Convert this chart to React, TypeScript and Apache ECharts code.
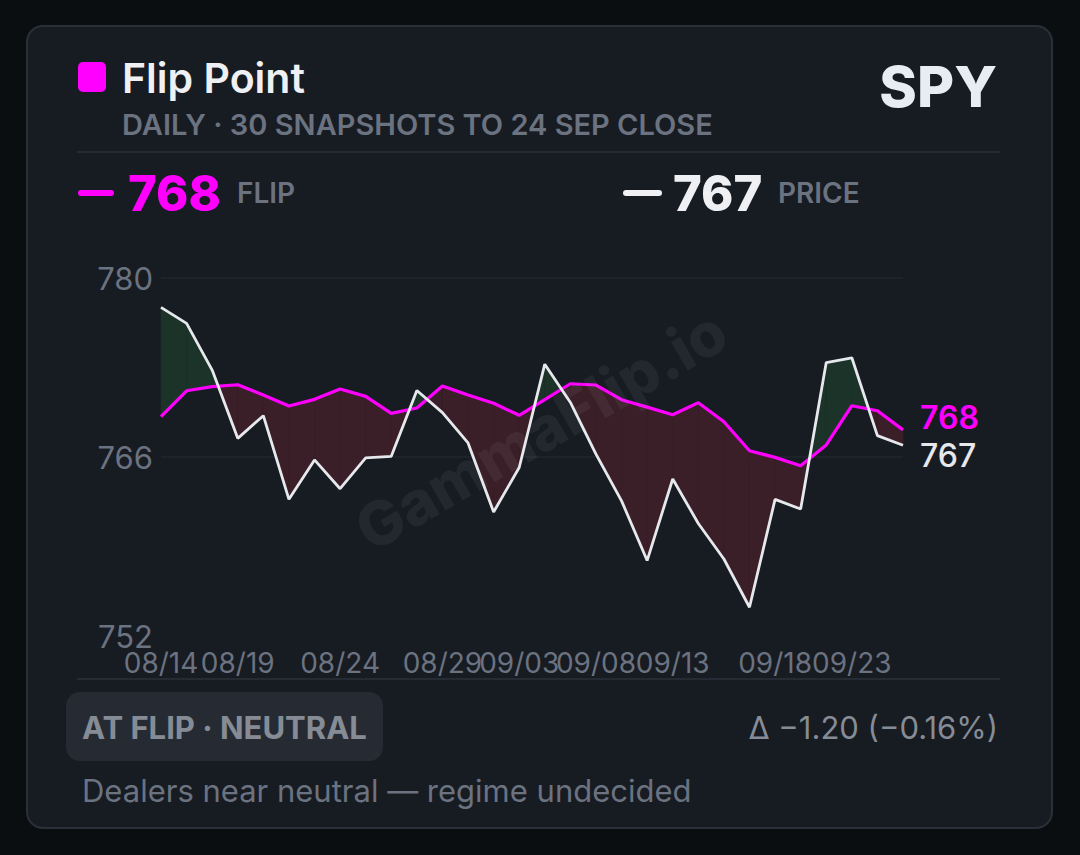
import React, { useEffect, useRef } from "react";
import * as echarts from "echarts";

// 30 daily snapshots, 14 Aug -> 24 Sep close
const snapshots = Array.from({ length: 30 }, (_, i) => String(i));
const tickAt = [0, 3, 7, 11, 14, 17, 20, 24, 27];
const tickLabels = ["08/14", "08/19", "08/24", "08/29", "09/03", "09/08", "09/13", "09/18", "09/23"];

const price = [
    777.7, 776.45, 772.8, 767.46, 769.23, 762.69, 765.77, 763.52, 765.93, 766.05,
    771.2, 769.47, 767.1, 761.7, 765.18, 773.26, 770.27, 766.22, 762.57, 757.9,
    764.28, 760.8, 758.02, 754.25, 762.69, 761.93, 773.39, 773.76, 767.67, 766.92,
];
const flip = [
    769.15, 771.18, 771.5, 771.65, 770.85, 769.99, 770.51, 771.32, 770.74, 769.41,
    769.83, 771.55, 770.85, 770.2, 769.26, 770.49, 771.73, 771.63, 770.48, 769.9,
    769.3, 770.25, 768.76, 766.49, 765.97, 765.32, 766.94, 770.01, 769.62, 768.12,
];

const FONT = "Inter, 'Noto Sans', sans-serif";
const MAGENTA = "#ff00ff";
const WHITE = "#e6e8ec";
const GRAY = "#6b7280";
const GRAY2 = "#868c96";
const ABOVE = "#1b3328";
const BELOW = "#3a1f28";

export default function App() {
    const chartRef = useRef<HTMLDivElement>(null);

    useEffect(() => {
        if (chartRef.current === null) return;
        const chart = echarts.init(chartRef.current, undefined, { renderer: "svg" });

        const last = price.length - 1;
        const flipNow = flip[last];
        const priceNow = price[last];
        const diff = priceNow - flipNow;
        const pct = (diff / flipNow) * 100;
        const fmt = (v: number, d: number) => (v < 0 ? "\u2212" : "+") + Math.abs(v).toFixed(d);
        const deltaText = `\u0394 ${fmt(diff, 2)} (${fmt(pct, 2)}%)`;

        // fill between price and flip, split at crossings
        const renderGap = (params: any, api: any) => {
            const i = params.dataIndex;
            const a0 = api.coord([i, price[i]]);
            const b0 = api.coord([i, flip[i]]);
            const a1 = api.coord([i + 1, price[i + 1]]);
            const b1 = api.coord([i + 1, flip[i + 1]]);
            const d0 = price[i] - flip[i];
            const d1 = price[i + 1] - flip[i + 1];
            const poly = (pts: number[][], up: boolean) => ({
                type: "polygon",
                shape: { points: pts },
                style: { fill: up ? ABOVE : BELOW, stroke: up ? ABOVE : BELOW, lineWidth: 0.6 },
            });
            if (d0 * d1 >= 0) {
                return { type: "group", children: [poly([a0, a1, b1, b0], d0 + d1 > 0)] };
            }
            const t = d0 / (d0 - d1);
            const c = [a0[0] + t * (a1[0] - a0[0]), a0[1] + t * (a1[1] - a0[1])];
            return {
                type: "group",
                children: [poly([a0, c, b0], d0 > 0), poly([c, a1, b1], d1 > 0)],
            };
        };

        const option: echarts.EChartsOption = {
            animation: false,
            backgroundColor: "#0b0e11",
            textStyle: { fontFamily: FONT },
            grid: { left: 161, right: 177, top: 278, bottom: 219 },
            xAxis: {
                type: "category",
                data: snapshots,
                boundaryGap: false,
                axisLine: { show: false },
                axisTick: { show: false },
                splitLine: { show: false },
                axisLabel: {
                    interval: (index: number) => tickAt.includes(index),
                    formatter: (_v: string, index: number) => tickLabels[tickAt.indexOf(index)] ?? "",
                    color: GRAY,
                    fontSize: 28,
                    fontFamily: FONT,
                    margin: 13,
                    hideOverlap: false,
                },
            },
            yAxis: {
                type: "value",
                min: 752,
                max: 780,
                interval: 14,
                axisLine: { show: false },
                axisTick: { show: false },
                axisLabel: {
                    color: GRAY,
                    fontSize: 31,
                    fontFamily: FONT,
                    margin: 8,
                    padding: [8, 0, 0, 0],
                },
                splitLine: {
                    lineStyle: { color: ["rgba(0,0,0,0)", "#22272f", "#22272f"], width: 1.5 },
                },
            },
            series: [
                {
                    type: "custom",
                    name: "gap",
                    renderItem: renderGap as any,
                    data: snapshots.slice(0, -1).map((_, i) => [i]),
                    encode: { x: 0 },
                    z: 1,
                    silent: true,
                },
                {
                    type: "line",
                    name: "Flip",
                    data: flip,
                    symbol: "none",
                    lineStyle: { color: MAGENTA, width: 3.2 },
                    z: 3,
                    endLabel: {
                        show: true,
                        formatter: (p: any) => String(Math.round(p.value)),
                        color: MAGENTA,
                        fontSize: 32,
                        fontWeight: 600,
                        fontFamily: FONT,
                        distance: 0,
                        offset: [17, -12],
                    },
                },
                {
                    type: "line",
                    name: "Price",
                    data: price,
                    symbol: "none",
                    lineStyle: { color: WHITE, width: 2.8 },
                    z: 4,
                    endLabel: {
                        show: true,
                        formatter: (p: any) => String(Math.round(p.value)),
                        color: WHITE,
                        fontSize: 32,
                        fontWeight: 500,
                        fontFamily: FONT,
                        distance: 0,
                        offset: [17, 10],
                    },
                },
            ],
            graphic: [
                {
                    type: "rect",
                    z: -10,
                    shape: { x: 27, y: 26, width: 1025, height: 802, r: 16 },
                    style: { fill: "#171b22", stroke: "#2b3038", lineWidth: 2 },
                },
                {
                    type: "rect",
                    shape: { x: 78, y: 62, width: 28, height: 30, r: 5 },
                    style: { fill: MAGENTA },
                },
                {
                    type: "text",
                    x: 122,
                    y: 78,
                    style: { text: "Flip Point", fill: "#eef0f4", fontSize: 41, fontWeight: 600, fontFamily: FONT, verticalAlign: "middle" },
                },
                {
                    type: "text",
                    x: 997,
                    y: 86,
                    style: { text: "SPY", fill: "#e9ecf2", fontSize: 57, fontWeight: 800, fontFamily: FONT, align: "right", verticalAlign: "middle" },
                },
                {
                    type: "text",
                    x: 122,
                    y: 124,
                    style: { text: "DAILY \u00b7 30 SNAPSHOTS TO 24 SEP CLOSE", fill: GRAY, fontSize: 29, fontWeight: 600, fontFamily: FONT, verticalAlign: "middle" },
                },
                {
                    type: "line",
                    shape: { x1: 77, y1: 152, x2: 1000, y2: 152 },
                    style: { stroke: "#262b33", lineWidth: 2 },
                },
                {
                    type: "rect",
                    shape: { x: 78, y: 190, width: 36, height: 6, r: 3 },
                    style: { fill: MAGENTA },
                },
                {
                    type: "text",
                    x: 128,
                    y: 193,
                    style: { text: String(Math.round(flipNow)), fill: MAGENTA, fontSize: 49, fontWeight: 800, fontFamily: FONT, verticalAlign: "middle" },
                },
                {
                    type: "text",
                    x: 237,
                    y: 193,
                    style: { text: "FLIP", fill: GRAY, fontSize: 28, fontWeight: 600, fontFamily: FONT, verticalAlign: "middle" },
                },
                {
                    type: "rect",
                    shape: { x: 623, y: 190, width: 39, height: 6, r: 3 },
                    style: { fill: "#eef0f4" },
                },
                {
                    type: "text",
                    x: 673,
                    y: 193,
                    style: { text: String(Math.round(priceNow)), fill: "#eef0f4", fontSize: 49, fontWeight: 800, fontFamily: FONT, verticalAlign: "middle" },
                },
                {
                    type: "text",
                    x: 778,
                    y: 193,
                    style: { text: "PRICE", fill: GRAY, fontSize: 28, fontWeight: 600, fontFamily: FONT, verticalAlign: "middle" },
                },
                {
                    type: "text",
                    x: 541,
                    y: 430,
                    rotation: Math.PI / 6,
                    z: 100,
                    style: { text: "GammaFlip.io", fill: "rgba(255,255,255,0.055)", fontSize: 61, fontWeight: 800, fontFamily: FONT, align: "center", verticalAlign: "middle" },
                },
                {
                    type: "line",
                    shape: { x1: 77, y1: 679, x2: 1000, y2: 679 },
                    style: { stroke: "#262b33", lineWidth: 2 },
                },
                {
                    type: "rect",
                    shape: { x: 66, y: 692, width: 317, height: 69, r: 14 },
                    style: { fill: "#262b33" },
                },
                {
                    type: "text",
                    x: 82,
                    y: 727,
                    style: { text: "AT FLIP \u00b7 NEUTRAL", fill: GRAY2, fontSize: 31, fontWeight: 700, fontFamily: FONT, verticalAlign: "middle" },
                },
                {
                    type: "text",
                    x: 998,
                    y: 727,
                    style: { text: deltaText, fill: GRAY2, fontSize: 31, fontWeight: 400, fontFamily: FONT, align: "right", verticalAlign: "middle" },
                },
                {
                    type: "text",
                    x: 82,
                    y: 790,
                    style: { text: "Dealers near neutral \u2014 regime undecided", fill: GRAY, fontSize: 31, fontWeight: 400, fontFamily: FONT, verticalAlign: "middle" },
                },
            ],
        };

        chart.setOption(option);
        return () => {
            chart.dispose();
        };
    }, []);

    return (
        <div
            ref={chartRef}
            style={{ position: "absolute", left: 0, top: 0, width: "1080px", height: "855px" }}
        />
    );
}
